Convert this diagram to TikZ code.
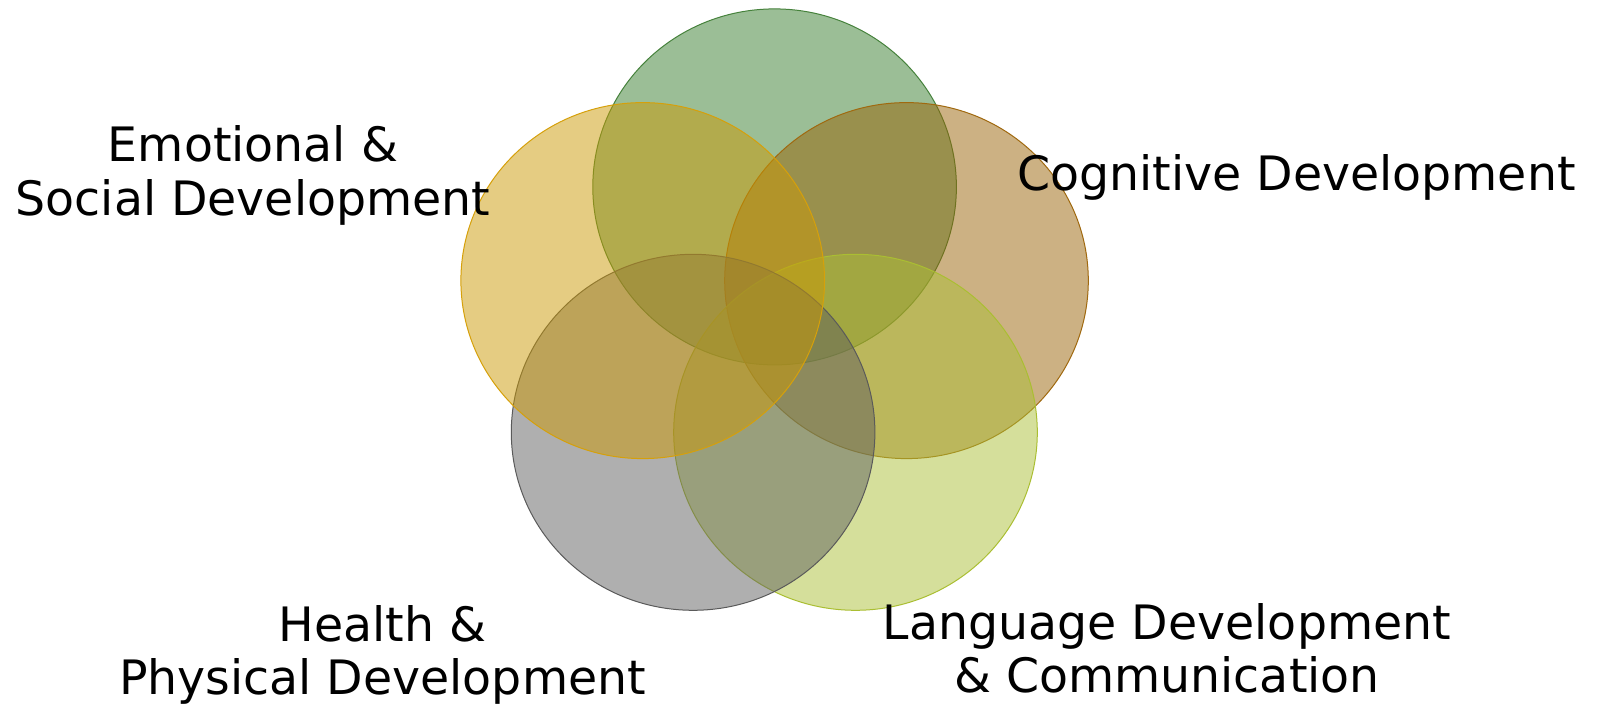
\documentclass[tikz,border=0pt]{standalone}
\usepackage{fontspec}
\setmainfont{DejaVu Sans}
\definecolor{socgreen}{RGB}{55,125,45}
\definecolor{socgreenline}{RGB}{70,130,60}
\definecolor{emogold}{RGB}{203,153,5}
\definecolor{emogoldline}{RGB}{214,160,10}
\definecolor{cogbrown}{RGB}{153,99,7}
\definecolor{cogbrownline}{RGB}{160,105,15}
\definecolor{langlime}{RGB}{171,191,55}
\definecolor{langlimeline}{RGB}{170,190,50}
\definecolor{physgray}{RGB}{95,95,95}
\definecolor{physgrayline}{RGB}{90,90,90}
\tikzset{
  blob/.style={fill opacity=0.5,line width=0.5pt},
  lbl/.style={align=center,anchor=base,font=\fontsize{23.7}{26.7}\selectfont}
}
\begin{document}
\begin{tikzpicture}[x=0.5pt,y=-0.5pt]
			\useasboundingbox (0,0) rectangle (1597,706);
			\draw[blob,fill=socgreen,draw=socgreenline] (774.6,186.9) ellipse [x radius=90.9pt,y radius=89pt];
			\draw[blob,fill=cogbrown,draw=cogbrownline] (906.5,280.6) ellipse [x radius=90.9pt,y radius=89pt];
			\draw[blob,fill=langlime,draw=langlimeline] (855.5,432.3) ellipse [x radius=90.9pt,y radius=89pt];
			\draw[blob,fill=physgray,draw=physgrayline] (693.1,432.3) ellipse [x radius=90.9pt,y radius=89pt];
			\draw[blob,fill=emogold,draw=emogoldline] (642.7,280.6) ellipse [x radius=90.9pt,y radius=89pt];

			% base = baseline of the last line
			\node[lbl] (emo) at (253,215) {Emotional \&\\Social Development};
			\node[lbl] (cog) at (1296.5,190.5) {Cognitive Development};
			\node[lbl] (health) at (382.5,694.9) {Health \&\\Physical Development};
			\node[lbl] (lang) at (1167,692.9) {Language Development\\\& Communication};
		\end{tikzpicture}
\end{document}
